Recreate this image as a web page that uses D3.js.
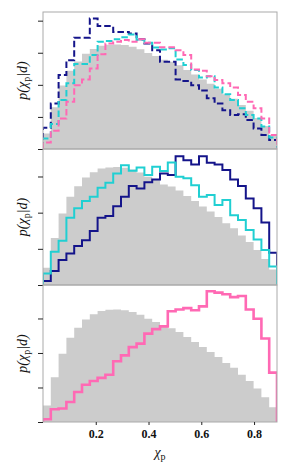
<!DOCTYPE html>
<html>
<head>
<meta charset="utf-8">
<script src="https://cdn.jsdelivr.net/npm/d3@7"></script>
<style>
  body { margin: 0; background: #fff; }
  svg { display: block; }
</style>
</head>
<body>
<svg id="chart"></svg>
<script>
var width = 291;
var height = 472;
var margin = { left: 43, right: 14 };

// chi_p histograms, 30 bins, values in y-tick units
var nBins = 30;
var xMax = 0.887;
var xTicks = [0.2, 0.4, 0.6, 0.8];

var prior = [0.48, 1.30, 1.98, 2.44, 2.73, 2.97, 3.12, 3.22, 3.25, 3.26,
             3.24, 3.19, 3.11, 2.99, 2.90, 2.78, 2.72, 2.61, 2.46, 2.32,
             2.17, 2.03, 1.88, 1.71, 1.57, 1.37, 1.19, 0.97, 0.72, 0.43];

var navyDashed = [0.66, 1.42, 2.31, 2.77, 3.47, 3.47, 4.07, 3.83, 3.83, 3.65,
                  3.65, 3.60, 3.42, 3.29, 3.08, 2.72, 2.72, 2.17, 2.12, 1.99,
                  1.82, 1.58, 1.42, 1.21, 1.06, 1.08, 0.90, 0.64, 0.44, 0.28];
var cyanDashed = [0.33, 0.78, 1.53, 2.05, 2.65, 2.65, 2.93, 3.34, 3.37, 3.42,
                  3.48, 3.57, 3.40, 3.31, 3.16, 3.10, 3.14, 2.79, 2.62, 2.46,
                  2.23, 2.27, 1.92, 1.71, 1.53, 1.27, 1.06, 0.95, 0.70, 0.36];
var pinkDashed = [0.20, 0.57, 0.95, 1.47, 1.99, 2.17, 2.51, 2.95, 3.29, 3.34,
                  3.40, 3.34, 3.42, 3.31, 3.31, 3.17, 3.17, 3.08, 2.93, 2.48,
                  2.44, 2.27, 2.15, 2.05, 1.92, 1.68, 1.47, 1.27, 0.95, 0.44];

var navySolid = [0.11, 0.39, 0.69, 0.87, 1.08, 1.24, 1.49, 1.86, 1.91, 2.18,
                 2.44, 2.74, 2.67, 2.84, 2.92, 3.08, 3.04, 3.56, 3.45, 3.33,
                 3.56, 3.38, 3.33, 3.18, 2.92, 2.74, 2.39, 2.12, 1.73, 0.89];
var cyanSolid = [0.32, 0.92, 1.22, 1.86, 2.12, 2.32, 2.44, 2.69, 2.83, 3.08,
                 3.31, 3.16, 3.25, 3.04, 3.27, 3.15, 3.39, 2.99, 2.95, 2.76,
                 2.44, 2.49, 2.21, 2.35, 1.93, 1.80, 1.52, 1.26, 0.97, 0.51];

var pinkSolid = [0.08, 0.37, 0.39, 0.58, 0.87, 1.08, 1.19, 1.28, 1.37, 1.76,
                 1.93, 2.17, 2.27, 2.56, 2.69, 2.77, 3.21, 3.26, 3.30, 3.24,
                 3.35, 3.79, 3.75, 3.70, 3.62, 3.65, 3.26, 2.99, 2.42, 1.43];

var navy = "#14148a";
var cyan = "#20cfd2";
var pink = "#ff69b4";

var panels = [
  { top: 12, bottom: 149, yMax: 4.27, dashed: true,
    series: [{ v: navyDashed, c: navy }, { v: cyanDashed, c: cyan }, { v: pinkDashed, c: pink }] },
  { top: 149, bottom: 285, yMax: 3.76, dashed: false,
    series: [{ v: navySolid, c: navy }, { v: cyanSolid, c: cyan }] },
  { top: 285, bottom: 422, yMax: 3.97, dashed: false,
    series: [{ v: pinkSolid, c: pink, w: 2.6 }] }
];

var edges = d3.range(nBins + 1).map(function(i) { return i * xMax / nBins; });

var svg = d3.select("#chart")
            .attr("width", width)
            .attr("height", height);

var xScale = d3.scaleLinear().domain([0, xMax]).range([margin.left, width - margin.right]);

function stepPoints(vals) {
  var pts = [[edges[0], 0]];
  vals.forEach(function(v, i) { pts.push([edges[i], v]); });
  pts.push([edges[nBins], vals[nBins - 1]]);
  pts.push([edges[nBins], 0]);
  return pts;
}

panels.forEach(function(p, k) {
  var yScale = d3.scaleLinear().domain([0, p.yMax]).range([p.bottom, p.top]);
  var g = svg.append("g");

  g.append("clipPath").attr("id", "clip" + k)
    .append("rect")
      .attr("x", margin.left).attr("y", p.top)
      .attr("width", width - margin.right - margin.left)
      .attr("height", p.bottom - p.top);

  var area = d3.area()
    .x(function(d) { return xScale(d[0]); })
    .y0(yScale(0))
    .y1(function(d) { return yScale(d[1]); })
    .curve(d3.curveStepAfter);

  var line = d3.line()
    .x(function(d) { return xScale(d[0]); })
    .y(function(d) { return yScale(d[1]); })
    .curve(d3.curveStepAfter);

  var plot = g.append("g").attr("clip-path", "url(#clip" + k + ")");

  plot.append("path")
      .datum(stepPoints(prior))
      .attr("d", area)
      .attr("fill", "#cccccc")
      .attr("stroke", "none");

  p.series.forEach(function(s) {
    plot.append("path")
        .datum(stepPoints(s.v))
        .attr("d", line)
        .attr("fill", "none")
        .attr("stroke", s.c)
        .attr("stroke-width", s.w || 2)
        .attr("stroke-linejoin", "miter")
        .attr("stroke-dasharray", p.dashed ? "6.5,3" : null);
  });

  // frame
  g.append("rect")
      .attr("x", margin.left).attr("y", p.top)
      .attr("width", width - margin.right - margin.left)
      .attr("height", p.bottom - p.top)
      .attr("fill", "none")
      .attr("stroke", "#aaaaaa")
      .attr("stroke-width", 1);

  var yAxis = g.append("g")
      .attr("transform", "translate(" + margin.left + ",0)")
      .call(d3.axisLeft(yScale).tickValues(d3.range(0, Math.floor(p.yMax) + 1)).tickSize(5).tickFormat(""));
  yAxis.select(".domain").remove();
  yAxis.selectAll("line").attr("stroke", "#222");

  g.append("text")
      .attr("transform", "translate(27," + ((p.top + p.bottom) / 2) + ") rotate(-90)")
      .attr("text-anchor", "middle")
      .style("font-family", "'Liberation Serif', 'Times New Roman', serif")
      .style("font-style", "italic")
      .style("font-size", "14px")
      .attr("fill", "#111")
      .html("p(χ<tspan dy='3' font-size='10' font-style='normal'>p</tspan><tspan dy='-3'>|d)</tspan>");

  if (k === panels.length - 1) {
    var xAxis = g.append("g")
        .attr("transform", "translate(0," + p.bottom + ")")
        .call(d3.axisBottom(xScale).tickValues(xTicks).tickSize(3).tickPadding(4)
          .tickFormat(d3.format(".1f")));
    xAxis.select(".domain").remove();
    xAxis.selectAll("line").attr("stroke", "#222");
    xAxis.selectAll("text")
        .style("font-family", "'Liberation Serif', 'Times New Roman', serif")
        .style("font-weight", "bold")
        .style("font-size", "12px")
        .attr("fill", "#111");
  }
});

svg.append("text")
    .attr("x", (margin.left + width - margin.right) / 2)
    .attr("y", 457)
    .attr("text-anchor", "middle")
    .style("font-family", "'Liberation Serif', 'Times New Roman', serif")
    .style("font-size", "14px")
    .attr("fill", "#111")
    .html("<tspan font-style='italic'>χ</tspan><tspan dy='3' font-size='10'>p</tspan>");
</script>
</body>
</html>
